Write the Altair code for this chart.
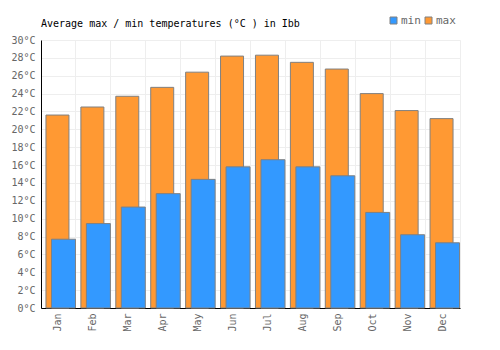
import altair as alt
import pandas as pd

months = ["Jan", "Feb", "Mar", "Apr", "May", "Jun", "Jul", "Aug", "Sep", "Oct", "Nov", "Dec"]
max_temps = [21.6, 22.5, 23.7, 24.7, 26.4, 28.2, 28.3, 27.5, 26.75, 24.0, 22.1, 21.2]
min_temps = [7.7, 9.45, 11.3, 12.8, 14.4, 15.8, 16.6, 15.8, 14.8, 10.7, 8.2, 7.3]
y_ticks = [0, 2, 4, 6, 8, 10, 12, 14, 16, 18, 20, 22, 24, 26, 28, 30]

df = pd.DataFrame({"month": months, "max": max_temps, "min": min_temps})

FONT = "DejaVu Sans Mono"
GRAY = "#666666"

x_enc = alt.X(
    "month:N",
    sort=months,
    scale=alt.Scale(paddingInner=0, paddingOuter=0),
    axis=alt.Axis(
        title=None,
        labelAngle=-90,
        labelFont=FONT,
        labelFontSize=10,
        labelColor=GRAY,
        labelPadding=5,
        ticks=False,
        grid=True,
        bandPosition=0,
        gridColor="#eeeeee",
        domainColor="#000000",
    ),
)

y_axis = alt.Axis(
    title=None,
    values=y_ticks,
    labelExpr="datum.value + '°C'",
    labelFont=FONT,
    labelFontSize=10,
    labelColor=GRAY,
    labelPadding=6,
    labelOverlap=False,
    ticks=False,
    grid=True,
    gridColor="#eeeeee",
    domainColor="#000000",
)
y_scale = alt.Scale(domain=[0, 30], nice=False)

color_scale = alt.Scale(domain=["min", "max"], range=["#3399ff", "#ff9933"])
legend = alt.Legend(
    title=None,
    orient="none",
    legendX=347,
    legendY=-25,
    direction="horizontal",
    symbolType="square",
    symbolSize=49,
    symbolStrokeColor="#808080",
    symbolStrokeWidth=1,
    labelFont=FONT,
    labelFontSize=11,
    labelColor=GRAY,
    labelOffset=2,
    columnPadding=2,
)

max_bars = alt.Chart(df).transform_calculate(series="'max'").mark_bar(
    width=23, xOffset=-1, stroke="#808080", strokeWidth=1
).encode(
    x=x_enc,
    y=alt.Y("max:Q", scale=y_scale, axis=y_axis),
    color=alt.Color("series:N", scale=color_scale, legend=legend),
)

min_bars = alt.Chart(df).transform_calculate(series="'min'").mark_bar(
    width=24, xOffset=5, stroke="#808080", strokeWidth=1
).encode(
    x=x_enc,
    y=alt.Y("min:Q", scale=y_scale, axis=y_axis),
    color=alt.Color("series:N", scale=color_scale, legend=legend),
)

chart = (
    alt.layer(max_bars, min_bars)
    .properties(
        width=419,
        height=268,
        autosize=alt.AutoSizeParams(type="none"),
        padding={"left": 41, "top": 40, "right": 40, "bottom": 42},
        title=alt.TitleParams(
            "Average max / min temperatures (°C ) in Ibb",
            anchor="start",
            frame="group",
            font=FONT,
            fontSize=10,
            fontWeight="normal",
            color="#000000",
            offset=0,
            dy=14,
        ),
    )
    .configure_view(stroke="#eeeeee")
)

chart.save("out.html", embed_options={"renderer": "svg", "actions": False})
